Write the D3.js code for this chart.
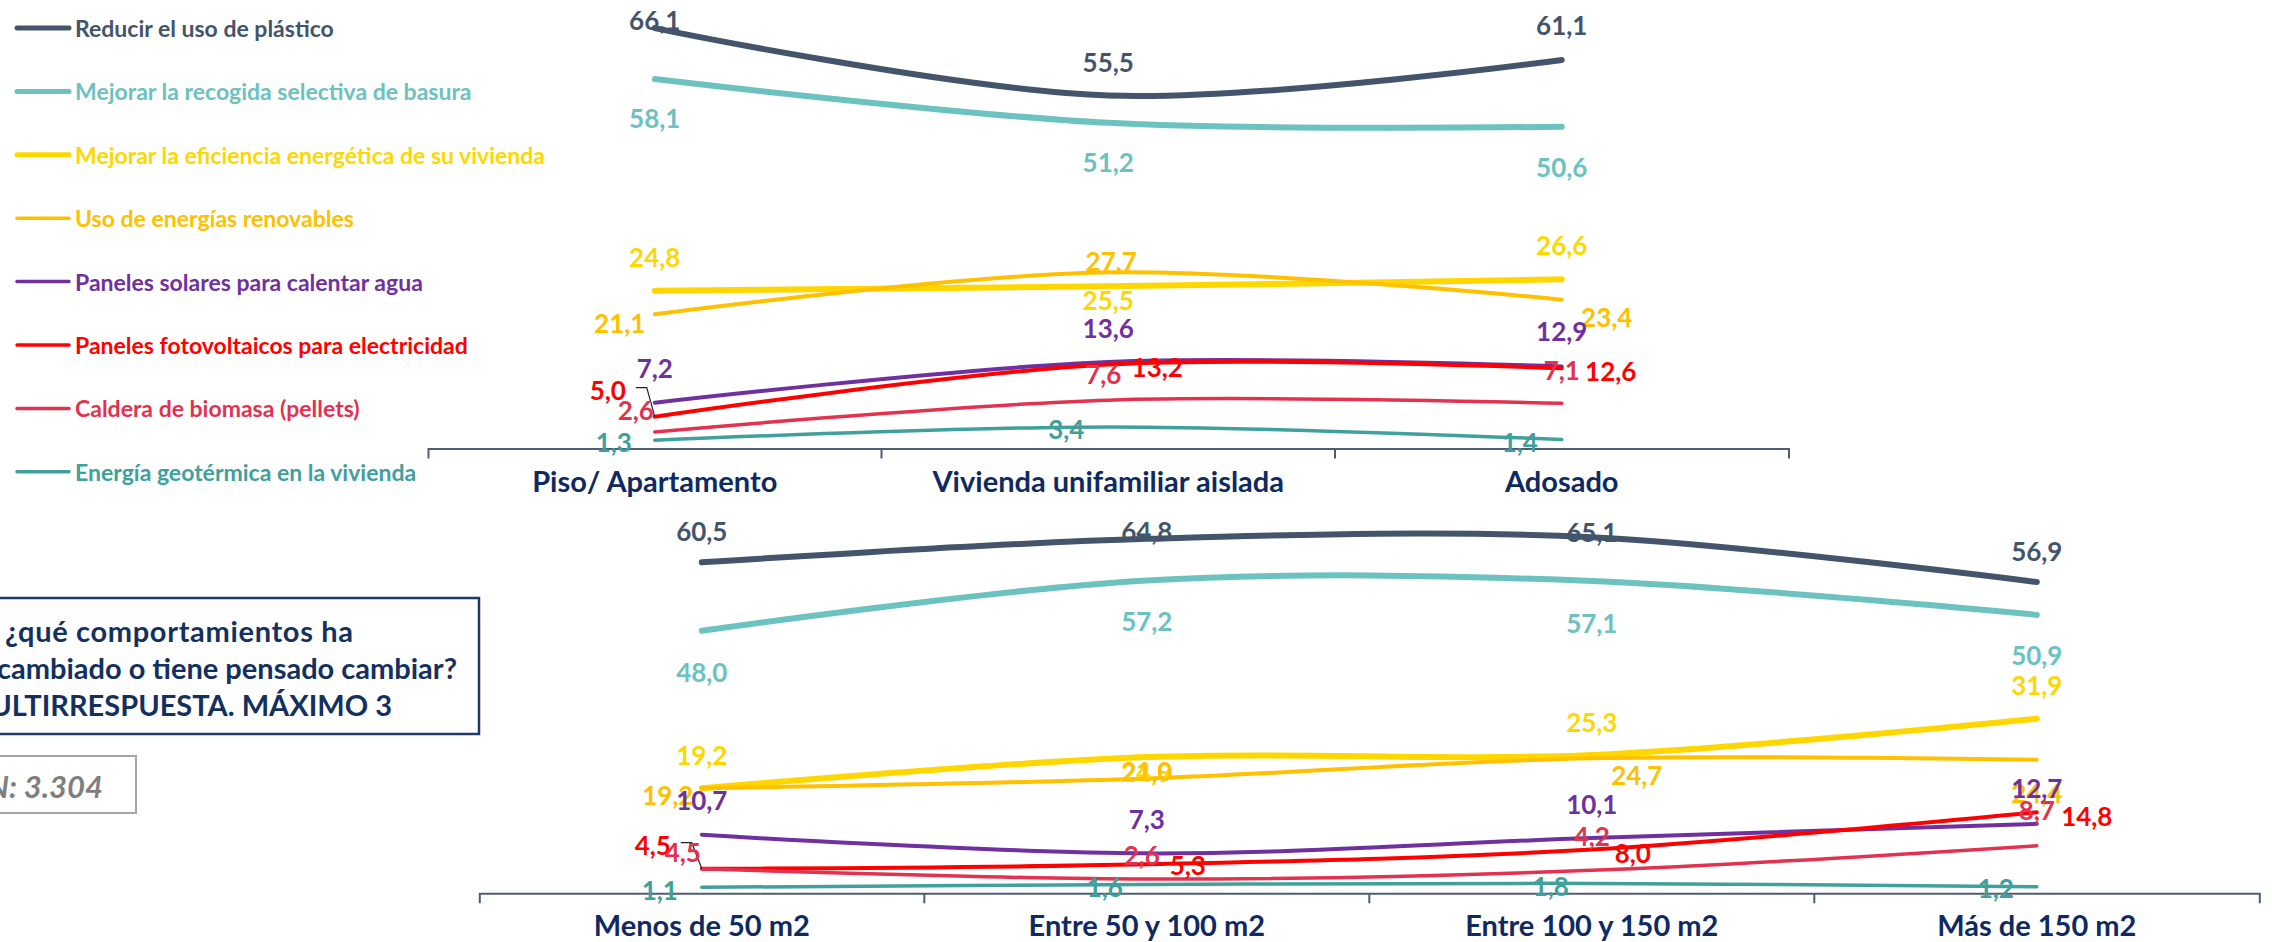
<!DOCTYPE html>
<html>
<head>
<meta charset="utf-8">
<script src="https://cdn.jsdelivr.net/npm/d3@7"></script>
<style>
  body { margin: 0; background: #fff; }
  svg text { font-family: Lato, "Open Sans", sans-serif; font-weight: 700; }
</style>
</head>
<body>
<svg id="chart" width="2272" height="942"></svg>
<script>
const seriesNames = [
  'Reducir el uso de plástico',
  'Mejorar la recogida selectiva de basura',
  'Mejorar la eficiencia energética de su vivienda',
  'Uso de energías renovables',
  'Paneles solares para calentar agua',
  'Paneles fotovoltaicos para electricidad',
  'Caldera de biomasa (pellets)',
  'Energía geotérmica en la vivienda'
];
const seriesColors = ['#44546a', '#6bc2bf', '#ffd700', '#ffc000', '#7030a0', '#ff0000', '#e3314f', '#40a09c'];
const seriesWidths = [6, 6, 6, 4, 4, 4, 3.5, 3.5];

const tiposVivienda = ['Piso/ Apartamento', 'Vivienda unifamiliar aislada', 'Adosado'];
const valoresVivienda = [
  [66.1, 55.5, 61.1],
  [58.1, 51.2, 50.6],
  [24.8, 25.5, 26.6],
  [21.1, 27.7, 23.4],
  [7.2, 13.6, 12.9],
  [5.0, 13.2, 12.6],
  [2.6, 7.6, 7.1],
  [1.3, 3.4, 1.4]
];

const tamanos = ['Menos de 50 m2', 'Entre 50 y 100 m2', 'Entre 100 y 150 m2', 'Más de 150 m2'];
const valoresTamano = [
  [60.5, 64.8, 65.1, 56.9],
  [48.0, 57.2, 57.1, 50.9],
  [19.2, 24.9, 25.3, 31.9],
  [19.2, 21.0, 24.7, 24.4],
  [10.7, 7.3, 10.1, 12.7],
  [4.5, 5.3, 8.0, 14.8],
  [4.5, 2.6, 4.2, 8.7],
  [1.1, 1.6, 1.8, 1.2]
];

const preguntaLineas = ['¿qué comportamientos ha', 'cambiado o tiene pensado cambiar?', 'MULTIRRESPUESTA. MÁXIMO 3'];
const baseTexto = 'N: 3.304';

// label offsets [dx, dy] from each point (layout only)
const offsetsVivienda = [
  [[0, -8], [0, -34], [0, -35]],
  [[0, 39], [0, 39], [0, 40]],
  [[0, -34], [0, 14], [0, -34]],
  [[-35, 9], [3, -11], [45, 17]],
  [[0, -35], [0, -34], [0, -35]],
  [[-47, -27], [49, 2], [49, 3]],
  [[-19, -22], [-5, -26], [0, -33]],
  [[-41, 1.5], [-42, 2.4], [-42, 2]]
];
const offsetsTamano = [
  [[0, -31], [0, -8], [0, -5.5], [0, -31]],
  [[0, 41], [0, 41], [0, 42], [0, 40]],
  [[0, -33], [0, 15], [0, -33], [0, -34]],
  [[-34, 7], [0, -7], [45, 17], [0, 33]],
  [[0, -35], [0, -34], [0, -34], [0, -36]],
  [[-49, -24], [41, 1], [41, 3], [50, 4]],
  [[-19, -17], [-5, -24], [0, -34], [0, -36]],
  [[-42, 3], [-42, 2], [-41, 2.5], [-41, 1]]
];

const fmt = v => d3.format('.1f')(v).replace('.', ',');
const svg = d3.select('#chart');
const axisColor = '#4f5d73';
const navy = '#0f2a62';

function panel(categories, values, offsets, xRange, y0, yTop) {
  const x = d3.scaleBand().domain(categories).range(xRange);
  const y = d3.scaleLinear().domain([0, 70]).range([y0, yTop]);
  const cx = c => x(c) + x.bandwidth() / 2;
  const g = svg.append('g');

  // axis
  const axis = g.append('g')
    .attr('transform', `translate(0,${y0})`)
    .call(d3.axisBottom(x).tickSizeInner(0).tickSizeOuter(10));
  axis.select('.domain').attr('stroke', axisColor).attr('stroke-width', 2);
  axis.selectAll('.tick line').remove();
  axis.selectAll('.tick text')
    .attr('y', 33).attr('dy', '0.35em')
    .attr('fill', navy).attr('font-size', 29)
    .attr('font-family', 'Lato, sans-serif').attr('font-weight', 700);
  axis.selectAll('.inner-tick')
    .data(d3.range(1, categories.length))
    .enter().append('line')
    .attr('x1', i => xRange[0] + i * x.step())
    .attr('x2', i => xRange[0] + i * x.step())
    .attr('y1', 0).attr('y2', 10)
    .attr('stroke', axisColor).attr('stroke-width', 2);

  const line = d3.line()
    .x((d, i) => cx(categories[i]))
    .y(d => y(d))
    .curve(d3.curveCardinal.tension(0));

  g.selectAll('.serie')
    .data(values)
    .enter().append('path')
    .attr('d', line)
    .attr('fill', 'none')
    .attr('stroke', (d, i) => seriesColors[i])
    .attr('stroke-width', (d, i) => seriesWidths[i])
    .attr('stroke-linecap', 'round');

  // leader line for the first red label
  const rx = cx(categories[0]), ry = y(values[5][0]);
  const lx = rx + offsets[5][0][0] + 28, ly = ry + offsets[5][0][1] - 2;
  g.append('polyline')
    .attr('points', `${lx},${ly} ${lx + 11},${ly} ${rx},${ry}`)
    .attr('fill', 'none').attr('stroke', '#222').attr('stroke-width', 1.2);

  values.forEach((serie, s) => {
    g.selectAll(null)
      .data(serie)
      .enter().append('text')
      .attr('x', (d, i) => cx(categories[i]) + offsets[s][i][0])
      .attr('y', (d, i) => y(d) + offsets[s][i][1])
      .attr('text-anchor', 'middle')
      .attr('dominant-baseline', 'central')
      .attr('font-size', 26)
      .attr('fill', seriesColors[s])
      .text(fmt);
  });
}

panel(tiposVivienda, valoresVivienda, offsetsVivienda, [428, 1788.5], 448.5, 3.3);
panel(tamanos, valoresTamano, offsetsTamano, [479.3, 2259.3], 893.3, 510.4);

// legend
const legend = svg.append('g');
seriesNames.forEach((name, i) => {
  const ly = 28 + i * 63.4;
  legend.append('line')
    .attr('x1', 17).attr('x2', 69).attr('y1', ly).attr('y2', ly)
    .attr('stroke', seriesColors[i])
    .attr('stroke-width', i < 3 ? 5 : 3.5)
    .attr('stroke-linecap', 'round');
  legend.append('text')
    .attr('x', 75).attr('y', ly)
    .attr('dominant-baseline', 'central')
    .attr('font-size', 23)
    .attr('fill', seriesColors[i])
    .text(name);
});

// question box
svg.append('rect')
  .attr('x', -10).attr('y', 598).attr('width', 489).attr('height', 136)
  .attr('fill', 'none').attr('stroke', '#1f3864').attr('stroke-width', 2.5);
const qEnds = [353, 457, 392];
preguntaLineas.forEach((t, i) => {
  const q = svg.append('text')
    .attr('y', 630 + i * 37)
    .attr('dominant-baseline', 'central')
    .attr('font-size', 29).attr('fill', '#13305f')
    .text(t);
  if (i === 0) {
    q.attr('x', 5).attr('textLength', qEnds[0] - 5).attr('lengthAdjust', 'spacing');
  } else {
    q.attr('x', qEnds[i]).attr('text-anchor', 'end');
  }
});

// base box
svg.append('rect')
  .attr('x', -10).attr('y', 756).attr('width', 146).attr('height', 57)
  .attr('fill', 'none').attr('stroke', '#a6a6a6').attr('stroke-width', 2);
svg.append('text')
  .attr('x', 103).attr('y', 786)
  .attr('text-anchor', 'end').attr('dominant-baseline', 'central')
  .attr('font-size', 31).attr('font-style', 'italic').attr('fill', '#7f7f7f')
  .text(baseTexto);
</script>
</body>
</html>
